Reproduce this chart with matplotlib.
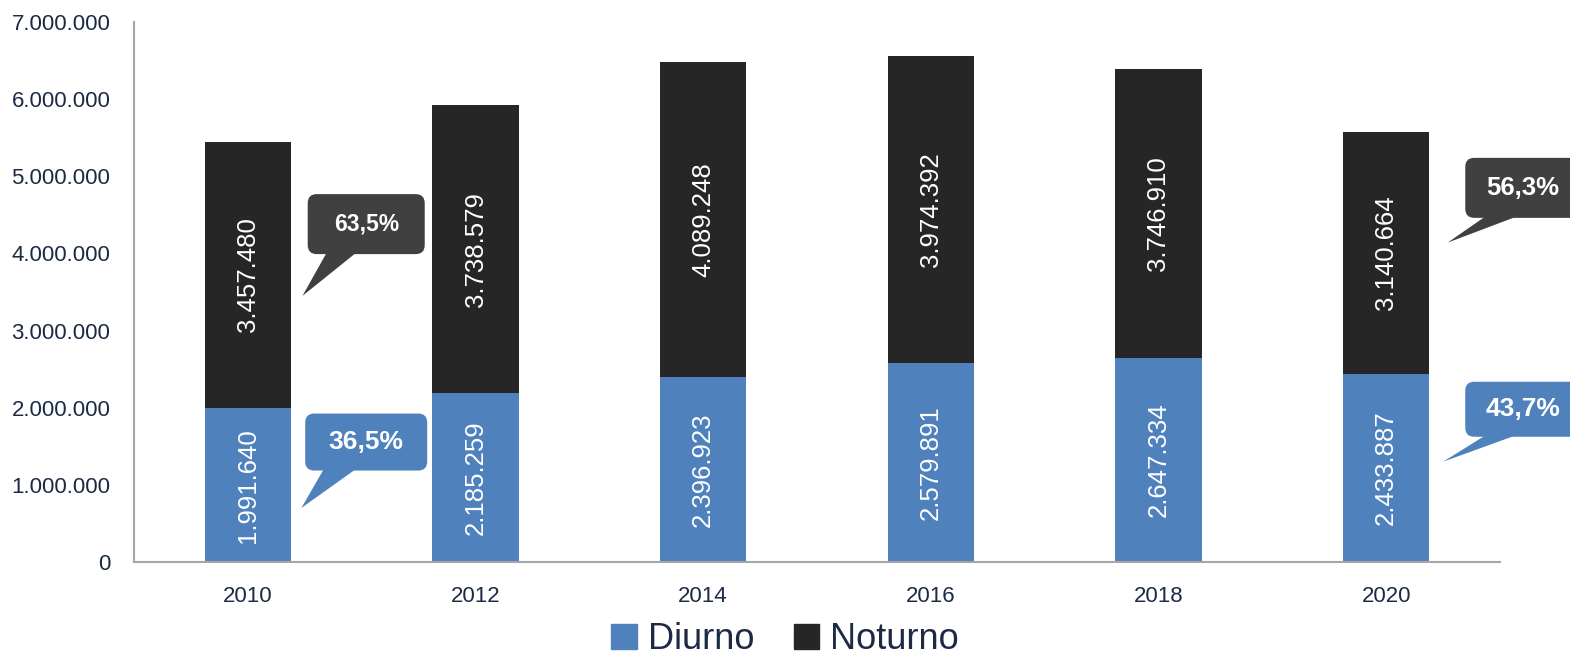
import matplotlib.pyplot as plt
from matplotlib.patches import FancyBboxPatch, Polygon, Patch
from matplotlib.ticker import FuncFormatter

plt.rcParams['font.family'] = ['Liberation Sans', 'DejaVu Sans']

# dados
anos = ['2010', '2012', '2014', '2016', '2018', '2020']
diurno = [1991640, 2185259, 2396923, 2579891, 2647334, 2433887]
noturno = [3457480, 3738579, 4089248, 3974392, 3746910, 3140664]
pct_labels = {0: ('63,5%', '36,5%'), 5: ('56,3%', '43,7%')}

AZUL = '#4f81bd'
PRETO = '#262626'
CAIXA_ESCURA = '#404040'
TXT = '#1c2a44'


def fmt_br(v):
    return f'{int(v):,}'.replace(',', '.')


fig = plt.figure(figsize=(15.7, 6.57), dpi=100)
ax = fig.add_axes([134 / 1570, 1 - 562 / 657, (1500 - 134) / 1570, (562 - 22) / 657])

x = list(range(len(anos)))
ax.bar(x, diurno, width=0.38, color=AZUL)
ax.bar(x, noturno, width=0.38, bottom=diurno, color=PRETO)

ax.set_xlim(-0.5, 5.5)
ax.set_ylim(0, 7000000)
ax.set_yticks(range(0, 7000001, 1000000))
ax.yaxis.set_major_formatter(FuncFormatter(lambda v, p: fmt_br(v)))
ax.set_xticks(x)
ax.set_xticklabels(anos)
ax.tick_params(axis='y', length=0, pad=17, labelsize=16, labelcolor=TXT)
ax.tick_params(axis='x', length=0, pad=17, labelsize=16, labelcolor=TXT)
for s in ['top', 'right']:
    ax.spines[s].set_visible(False)
for s in ['left', 'bottom']:
    ax.spines[s].set_color('#a6a6a6')
    ax.spines[s].set_linewidth(1.5)

# rótulos dentro das barras
for i in x:
    ax.text(i, diurno[i] / 2, fmt_br(diurno[i]), rotation=90, ha='center', va='center',
            color='white', fontsize=18.5)
    ax.text(i, diurno[i] + noturno[i] / 2, fmt_br(noturno[i]), rotation=90, ha='center',
            va='center', color='white', fontsize=18.5)


def balao(xc, yc, tip, texto, cor, w, h, b0, b1, fs):
    # xc, yc em dados; largura/altura em pixels
    cx, cy = ax.transData.transform((xc, yc))
    tx, ty = ax.transData.transform(tip)
    left, bottom = cx - w / 2, cy - h / 2
    caixa = FancyBboxPatch((left, bottom), w, h, boxstyle='round,pad=0,rounding_size=9',
                           transform=None, fc=cor, ec='none', clip_on=False, zorder=5)
    fig.patches.append(caixa)
    cauda = Polygon([(left + b0 * w, bottom + 1), (left + b1 * w, bottom + 1), (tx, ty)],
                    closed=True, transform=None, fc=cor, ec='none', clip_on=False, zorder=5)
    fig.patches.append(cauda)
    fig.text(cx / fig.dpi / fig.get_figwidth(), cy / fig.dpi / fig.get_figheight(), texto,
             ha='center', va='center', color='white', fontsize=fs, fontweight='bold', zorder=6)


fig.canvas.draw()
# 2010
balao(0.52, 4.38e6, (0.24, 3.45e6), pct_labels[0][0], CAIXA_ESCURA, 117, 60, 0.16, 0.41, 16.5)
balao(0.52, 1.555e6, (0.235, 0.70e6), pct_labels[0][1], AZUL, 122, 57, 0.15, 0.41, 19)
# 2020
balao(5.6, 4.85e6, (5.27, 4.14e6), pct_labels[5][0], CAIXA_ESCURA, 115, 60, 0.17, 0.44, 18.5)
balao(5.6, 1.98e6, (5.25, 1.30e6), pct_labels[5][1], AZUL, 115, 55, 0.17, 0.43, 19)

handles = [Patch(color=AZUL, label='Diurno'), Patch(color=PRETO, label='Noturno')]
leg = fig.legend(handles=handles, loc='lower center', bbox_to_anchor=(0.5, -0.05), ncol=2,
                 frameon=False, fontsize=26, handlelength=0.7, handleheight=0.7,
                 handletextpad=0.3, columnspacing=1.1)
for t in leg.get_texts():
    t.set_color(TXT)

fig.savefig('out.png', dpi=100)
